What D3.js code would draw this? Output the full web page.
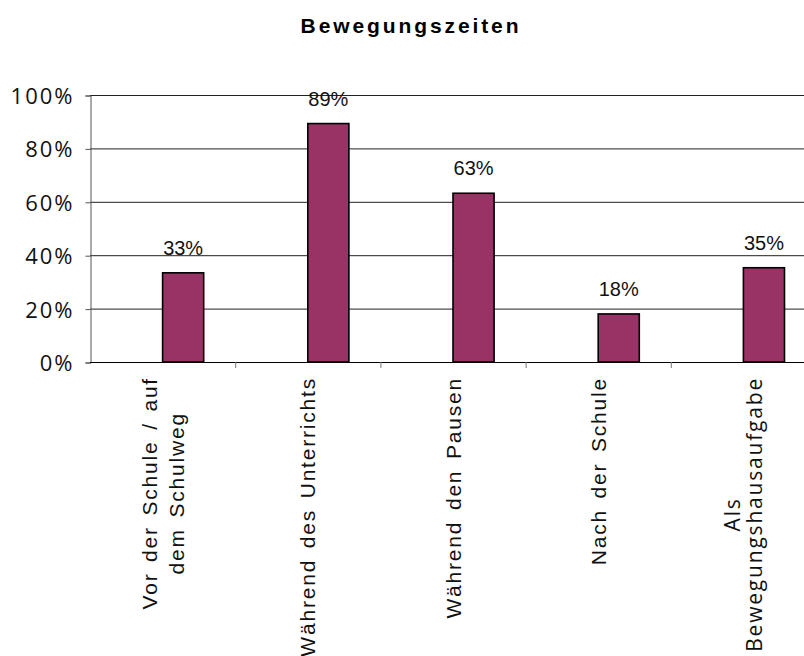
<!DOCTYPE html>
<html>
<head>
<meta charset="utf-8">
<script src="https://cdn.jsdelivr.net/npm/d3@7"></script>
<style>
  body { margin: 0; background: #fff; }
  svg { display: block; }
</style>
</head>
<body>
<svg class="chart" width="804" height="656"></svg>
<script>
// chart data
let categories = [
  ["Vor der Schule / auf", "dem Schulweg"],
  ["Während des Unterrichts"],
  ["Während den Pausen"],
  ["Nach der Schule"],
  ["Als", "Bewegungshausaufgabe"]
];
let values = [0.334, 0.893, 0.632, 0.18, 0.353];
let yTicks = [0, 0.2, 0.4, 0.6, 0.8, 1.0];
let title = "Bewegungszeiten";

// layout
let plotLeft = 90, plotRight = 816, plotTop = 95, plotBottom = 362;
let barColor = "#993366";

let svg = d3.select("svg.chart");

let x = d3.scaleBand()
          .domain(d3.range(categories.length))
          .range([plotLeft, plotRight])
          .padding(0);

let y = d3.scaleLinear()
          .domain([0, 1])
          .range([plotBottom, plotTop]);

let barW = x.bandwidth() * 0.283;

// title
svg.append("text")
  .attr("x", 411)
  .attr("y", 33)
  .attr("text-anchor", "middle")
  .style("font-family", "'Liberation Sans', Arial, sans-serif")
  .style("font-weight", "bold")
  .style("font-size", "21px")
  .style("letter-spacing", "2.9px")
  .text(title);

// gridlines
svg.append("g")
  .selectAll("line")
  .data(yTicks.filter(d => d > 0))
  .enter()
  .append("line")
  .attr("x1", plotLeft)
  .attr("x2", plotRight)
  .attr("y1", d => y(d) + 0.5)
  .attr("y2", d => y(d) + 0.5)
  .style("stroke", "#222")
  .style("stroke-width", 1);

// y axis
let yAxis = d3.axisLeft(y)
              .tickValues(yTicks)
              .tickSize(5)
              .tickPadding(11)
              .tickFormat(d3.format(".0%"));

let yg = svg.append("g")
  .attr("transform", `translate(${plotLeft + 0.5},0.5)`)
  .call(yAxis);
yg.select(".domain").style("stroke", "#555");
yg.selectAll(".tick line").style("stroke", "#555");
yg.selectAll(".tick text")
  .style("font-family", "'Open Sans', sans-serif")
  .style("font-size", "22px")
  .style("letter-spacing", "2px")
  .style("fill", "#111")
  .attr("dy", "0.36em");

// bars
svg.append("g")
  .selectAll("rect")
  .data(values)
  .enter()
  .append("rect")
  .attr("x", (d, i) => x(i) + x.bandwidth() / 2)
  .attr("y", d => y(d))
  .attr("width", barW)
  .attr("height", d => y(0) - y(d))
  .style("fill", barColor)
  .style("stroke", "#000")
  .style("stroke-width", 1.6);

// value labels
svg.append("g")
  .selectAll("text")
  .data(values)
  .enter()
  .append("text")
  .attr("x", (d, i) => x(i) + x.bandwidth() / 2 + barW / 2)
  .attr("y", d => y(d) - 18)
  .attr("text-anchor", "middle")
  .style("font-family", "'Liberation Sans', Arial, sans-serif")
  .style("font-size", "20px")
  .style("fill", "#111")
  .text(d => d3.format(".0%")(d));

// x axis line and tick marks between categories
svg.append("line")
  .attr("x1", plotLeft)
  .attr("x2", plotRight)
  .attr("y1", plotBottom + 0.5)
  .attr("y2", plotBottom + 0.5)
  .style("stroke", "#000");

svg.append("g")
  .selectAll("line")
  .data(d3.range(1, categories.length + 1))
  .enter()
  .append("line")
  .attr("x1", i => (i < categories.length ? x(i) : plotRight) + 0.5)
  .attr("x2", i => (i < categories.length ? x(i) : plotRight) + 0.5)
  .attr("y1", plotBottom)
  .attr("y2", plotBottom + 6)
  .style("stroke", "#777");

// category labels, rotated, lines centred on each other
let labelTop = 377;
categories.forEach((lines, i) => {
  let last = i === categories.length - 1;
  let font = last ? "'Open Sans', sans-serif" : "'Liberation Sans', Arial, sans-serif";
  let fs = 21;
  let ls = 1.8;
  let lh = last ? 22 : 27;
  let cap = fs * 0.72;

  let g = svg.append("g")
    .attr("transform", `translate(${x(i) + x.bandwidth() / 2},${labelTop}) rotate(-90)`);

  let texts = g.selectAll("text")
    .data(lines)
    .enter()
    .append("text")
    .attr("text-anchor", "middle")
    .style("font-family", font)
    .style("font-size", fs + "px")
    .style("letter-spacing", ls + "px")
    .style("word-spacing", last ? "0px" : "3px")
    .style("fill", "#111")
    .text(d => d);

  let maxW = d3.max(texts.nodes(), n => n.getComputedTextLength());
  let y1 = (cap - (lines.length - 1) * lh) / 2;
  texts
    .attr("x", -maxW / 2)
    .attr("y", (d, j) => y1 + j * lh);
});
</script>
</body>
</html>
